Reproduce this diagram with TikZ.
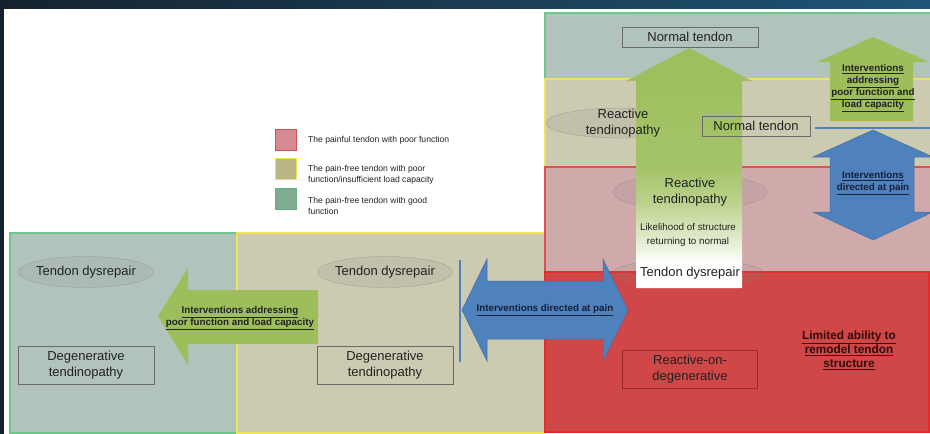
\documentclass[tikz,border=0pt]{standalone}
\usepackage{fontspec}
\setmainfont{Liberation Sans}
\usetikzlibrary{shapes.geometric}
\definecolor{frameL}{HTML}{15222E}
\definecolor{frameR}{HTML}{1F5577}
\definecolor{gbg}{HTML}{B2C3BC}
\definecolor{ybg}{HTML}{CCCAB1}
\definecolor{pbg}{HTML}{D0A9AB}
\definecolor{rbg}{HTML}{D04747}
\definecolor{gbd}{HTML}{6CC88A}
\definecolor{ybd}{HTML}{ECE55A}
\definecolor{pbd}{HTML}{E05050}
\definecolor{rbd}{HTML}{E52B2B}
\definecolor{agreen}{HTML}{9DBE5B}
\definecolor{ablue}{HTML}{4F81BD}
\definecolor{boxbd}{HTML}{6A6A6A}
\definecolor{redbox}{HTML}{9A2A2A}
\definecolor{txt}{HTML}{222222}
\definecolor{navytxt}{HTML}{15203A}
\colorlet{ag35}{agreen!35!white}
\colorlet{ag70}{agreen!70!white}
\colorlet{ag92}{agreen!92!white}
\pgfdeclareverticalshading{gfade}{100bp}{color(0bp)=(white); color(30bp)=(white); color(36bp)=(ag35); color(43bp)=(ag70); color(50bp)=(ag92); color(75bp)=(agreen); color(100bp)=(agreen)}
\begin{document}
\begin{tikzpicture}[x=1pt,y=-1pt,
  lbl/.style={font=\fontsize{13}{15.5}\selectfont, text=txt, align=center, inner sep=0pt},
  btxt/.style={font=\bfseries\fontsize{9.8}{12}\selectfont, text=txt, align=center, inner sep=0pt},
  legtxt/.style={font=\fontsize{8.6}{11}\selectfont, text=txt, align=left, anchor=west, inner sep=0pt},
  ell/.style={ellipse, draw=gray, draw opacity=0.5, fill=gray, fill opacity=0.13, inner sep=0pt},
  tbox/.style={rectangle, draw=boxbd, line width=0.7pt, inner sep=0pt},
  band/.style={line width=1.1pt},
  legsq/.style={rectangle, minimum width=21pt, minimum height=21pt, inner sep=0pt, line width=1pt}]
\useasboundingbox (0,0) rectangle (930,434);
\begin{scope}
\clip (0,0) rectangle (930,434);
\fill[white] (0,0) rectangle (930,434);
% frame
\fill[left color=frameL, right color=frameR] (0,0) rectangle (930,8);
\fill[frameL] (0,0) rectangle (4,434);
% left panels
\filldraw[band, fill=gbg, draw=gbd] (10,233) rectangle (237,433);
\filldraw[band, fill=ybg, draw=ybd] (237,233) rectangle (545,433);
% right column bands
\filldraw[band, fill=gbg, draw=gbd] (545,13) rectangle (931,79);
\filldraw[band, fill=ybg, draw=ybd] (545,79) rectangle (931,167);
\filldraw[band, fill=pbg, draw=pbd] (545,167) rectangle (931,272);
\filldraw[band, fill=rbg, draw=rbd] (545,272) rectangle (929,432);
% legend
\node[legsq, fill={rgb,255:red,212;green,138;blue,142}, draw={rgb,255:red,208;green,80;blue,80}] (lsq1) at (286,140) {};
\node[legsq, fill={rgb,255:red,184;green,182;blue,132}, draw={rgb,255:red,240;green,232;blue,64}] (lsq2) at (286,168.5) {};
\node[legsq, fill={rgb,255:red,127;green,171;blue,147}, draw={rgb,255:red,96;green,176;blue,128}] (lsq3) at (286,199) {};
\node[legtxt] (leg1) at (308,140) {The painful tendon with poor function};
\node[legtxt] (leg2) at (308,175) {The pain-free tendon with poor\\function/insufficient load capacity};
\node[legtxt] (leg3) at (308,205.5) {The pain-free tendon with good\\function};
% ellipses (shapes)
\node[ell, minimum width=135pt, minimum height=31pt] (e1) at (86,272) {};
\node[ell, minimum width=135pt, minimum height=31pt] (e2) at (385,272) {};
\node[ell, minimum width=150pt, minimum height=30pt] (e3) at (621,123) {};
\node[ell, minimum width=154pt, minimum height=36pt] (e4) at (690,192) {};
\node[ell, minimum width=151pt, minimum height=27pt] (e5) at (688,273) {};
% big green up arrow
\shade[shading=gfade] (689,48) -- (752,81) -- (742,81) -- (742,288) -- (636,288) -- (636,81) -- (626,81) -- cycle;
% right green up arrow
\fill[agreen] (873,37) -- (929,62) -- (913,62) -- (913,121) -- (830,121) -- (830,62) -- (817,62) -- cycle;
% right blue double arrow
\filldraw[fill=ablue, draw=ablue!85!black, line width=0.5pt] (873,130) -- (933,157) -- (914,157) -- (914,212) -- (933,212) -- (873,240) -- (813,212) -- (830,212) -- (830,157) -- (813,157) -- cycle;
\draw[ablue, line width=2.5pt] (815,128) -- (931,128);
% left green arrow
\fill[agreen] (158,316) -- (188,268) -- (188,290) -- (318,290) -- (318,344) -- (188,344) -- (188,365) -- cycle;
% horizontal blue double arrow
\filldraw[fill=ablue, draw=ablue!85!black, line width=0.5pt] (462,310) -- (487,259) -- (487,281) -- (603,281) -- (603,259) -- (628,310) -- (603,361) -- (603,339) -- (487,339) -- (487,361) -- cycle;
\draw[ablue, line width=2.5pt] (460,260) -- (460,362);
% boxes
\node[tbox, minimum width=136pt, minimum height=20pt, lbl] (nt1) at (690,37) {Normal tendon};
\node[tbox, minimum width=108pt, minimum height=20pt, lbl] (nt2) at (756,126) {Normal tendon};
\node[tbox, draw=redbox, minimum width=135pt, minimum height=38pt, lbl] (rod) at (690,369) {Reactive-on-\\degenerative};
\node[tbox, minimum width=136pt, minimum height=38pt, lbl] (dt1) at (86,365) {Degenerative\\tendinopathy};
\node[tbox, minimum width=136pt, minimum height=38pt, lbl] (dt2) at (385,365) {Degenerative\\tendinopathy};
% ellipse labels
\node[lbl] (l1) at (86,272) {Tendon dysrepair};
\node[lbl] (l2) at (385,272) {Tendon dysrepair};
\node[lbl] (l3) at (623,123) {Reactive\\tendinopathy};
\node[lbl] (l4) at (690,192) {Reactive\\tendinopathy};
\node[lbl] (l5) at (690,273) {Tendon dysrepair};
\node[font=\fontsize{9.8}{14}\selectfont, text=txt, align=center, inner sep=0pt] (lik) at (688,235) {Likelihood of structure\\returning to normal};
% intervention texts
\node[btxt] (i1) at (240,318) {\underline{Interventions addressing}\\\underline{poor function and load capacity}};
\node[btxt, text=navytxt] (i2) at (545,310) {\underline{Interventions directed at pain}};
\node[btxt] (i3) at (873,88) {\underline{Interventions}\\\underline{addressing}\\\underline{poor function and}\\\underline{load capacity}};
\node[btxt, text=navytxt] (i4) at (873,183) {\underline{Interventions}\\\underline{directed at pain}};
\node[btxt, font=\bfseries\fontsize{11.8}{14}\selectfont, text={rgb,255:red,50;green,10;blue,10}] (lim) at (849,350) {\underline{Limited ability to}\\\underline{remodel tendon}\\\underline{structure}};
\end{scope}
\end{tikzpicture}
\end{document}
